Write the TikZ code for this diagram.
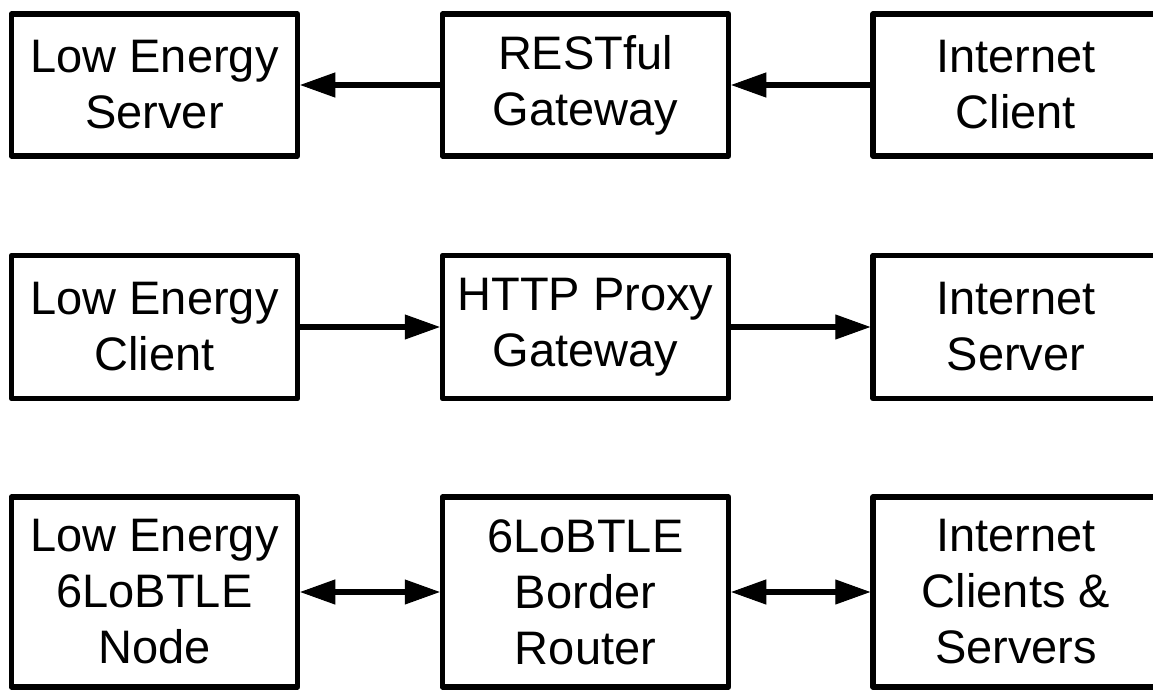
\documentclass[tikz,border=0pt]{standalone}
\usepackage{fontspec}
\setmainfont{Liberation Sans}
\usetikzlibrary{arrows.meta}
\begin{document}
\begin{tikzpicture}[x=1pt,y=-1pt,
  box/.style={draw=black, line width=5.5pt, line join=round, fill=white,
    align=center, inner sep=0pt, minimum width=286pt,
    font=\fontsize{47}{56}\selectfont},
  row2/.style={box, minimum height=143pt},
  row3/.style={box, minimum height=190pt},
  link/.style={line width=5.5pt, -{Triangle[length=35pt,width=25pt,line width=1pt]}},
  biglink/.style={line width=5.5pt,
    {Triangle[length=35pt,width=25pt,line width=1pt]}-{Triangle[length=35pt,width=25pt,line width=1pt]}}]
\useasboundingbox (0,0) rectangle (1153,690);
\fill[white] (0,0) rectangle (1153,690);
\clip (0,0) rectangle (1153,690);

% first row: server side reached through a RESTful gateway
\node[row2, minimum height=142pt] (les)  at (154.5,85)  {Low Energy\\Server};
\node[row2, minimum height=142pt] (rest) at (585.5,85)  {RESTful\\Gateway};
\node[row2, minimum height=142pt] (ic)   at (1016,85)   {Internet\\Client};

% second row: client side through an HTTP proxy
\node[row2] (lec)  at (154.5,327) {Low Energy\\Client};
\node[row2] (http) at (585.5,327) {HTTP Proxy\\Gateway};
\node[row2] (is)   at (1016,327)  {Internet\\Server};

% third row: 6LoBTLE routing
\node[row3] (node) at (154.5,592) {Low Energy\\6LoBTLE\\Node};
\node[row3] (br)   at (585.5,592) {6LoBTLE\\Border\\Router};
\node[row3] (ics)  at (1016,592)  {Internet\\Clients \&\\Servers};

\draw[link] (rest.west) -- (les.east);
\draw[link] (ic.west) -- (rest.east);
\draw[link] (lec.east) -- (http.west);
\draw[link] (http.east) -- (is.west);
\draw[biglink] (node.east) -- (br.west);
\draw[biglink] (br.east) -- (ics.west);
\end{tikzpicture}
\end{document}
